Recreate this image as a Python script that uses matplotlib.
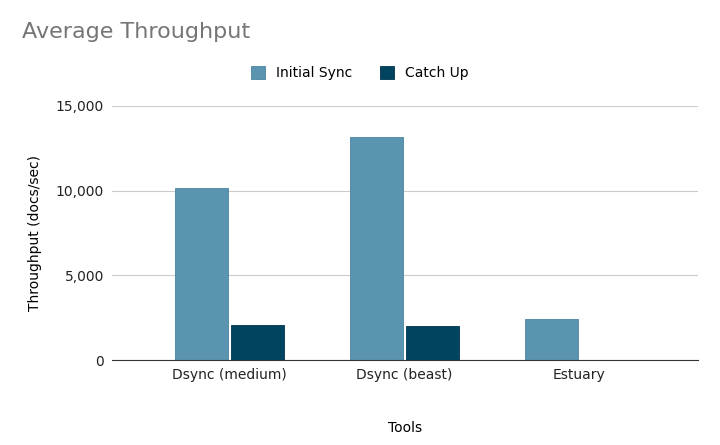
import numpy as np
import matplotlib.pyplot as plt

categories = ["Dsync (medium)", "Dsync (beast)", "Estuary"]
initial_sync = [10150, 13160, 2420]
catch_up = [2060, 2000, 0]

fig = plt.figure(figsize=(7.2, 4.45), dpi=100)
ax = fig.add_axes([0.156, 0.191, 0.814, 0.571])

x = np.arange(len(categories))
w = 0.305
ax.bar(x - w / 2 - 0.008, initial_sync, w, color="#5a94b0", edgecolor="#4a84a0", linewidth=0.6, label="Initial Sync")
ax.bar(x + w / 2 + 0.008, catch_up, w, color="#00445f", edgecolor="#003450", linewidth=0.6, label="Catch Up")

ax.set_xlim(-0.67, 2.68)
ax.set_ylim(0, 15000)
ax.set_yticks([0, 5000, 10000, 15000])
ax.set_yticklabels(["0", "5,000", "10,000", "15,000"])
ax.set_xticks(x)
ax.set_xticklabels(categories)
ax.grid(axis="y", color="#cccccc", linewidth=0.8)
ax.set_axisbelow(True)
for s in ["top", "right", "left"]:
    ax.spines[s].set_visible(False)
ax.spines["bottom"].set_color("#333333")
ax.tick_params(length=0, labelsize=10, colors="#222222", pad=6)
ax.set_ylabel("Throughput (docs/sec)", fontsize=10, labelpad=10)
ax.set_xlabel("Tools", fontsize=10, labelpad=28)

fig.text(0.03, 0.915, "Average Throughput", fontsize=16, color="#757575")
fig.legend(loc="center", bbox_to_anchor=(0.5, 0.835), ncol=2, frameon=False,
           fontsize=10, handlelength=1.0, handleheight=1.0, columnspacing=2.0)

fig.savefig("out.png")
